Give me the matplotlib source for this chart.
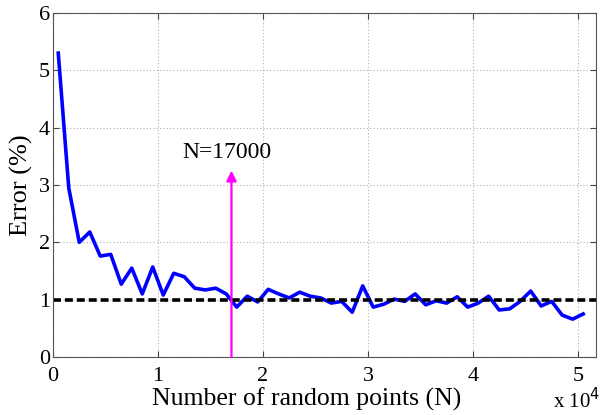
import numpy as np
import matplotlib
matplotlib.use('Agg')
import matplotlib.pyplot as plt

# sample sizes and the resulting error
n_points = np.arange(500, 51000, 1000)
error_pct = [5.30, 2.95, 2.00, 2.18, 1.76, 1.79, 1.27, 1.55, 1.10, 1.57,
             1.08, 1.46, 1.40, 1.20, 1.17, 1.20, 1.10, 0.87, 1.06, 0.96,
             1.18, 1.10, 1.03, 1.13, 1.06, 1.03, 0.94, 0.97, 0.78, 1.24,
             0.87, 0.92, 1.01, 0.97, 1.10, 0.91, 0.98, 0.94, 1.05, 0.87,
             0.94, 1.06, 0.82, 0.84, 0.97, 1.15, 0.89, 0.97, 0.73, 0.66,
             0.75]
target_error = 1.0
chosen_n = 17000
x_scale = 1e4

plt.rcParams['font.family'] = ['Liberation Serif', 'DejaVu Serif']

fig = plt.figure(figsize=(6.03, 4.15), dpi=100)
ax = fig.add_axes([0.0879, 0.1398, 0.9001, 0.8289])

ax.plot(n_points / x_scale, error_pct, color='#0000ff', lw=2.6)
ax.axhline(target_error, color='black', lw=2.6, ls=(0, (2.2, 1.1)))

ax.annotate('', xy=(chosen_n / x_scale, 3.25), xytext=(chosen_n / x_scale, 0),
            arrowprops=dict(arrowstyle='-|>', color='#ff00ff', lw=1.6,
                            mutation_scale=15, shrinkA=0, shrinkB=0))
ax.text(1.23, 3.57, 'N=%d' % chosen_n, fontsize=17, va='center', ha='left')

ax.set_xlim(0, 5.17)
ax.set_ylim(0, 6)
ax.set_xticks(range(6))
ax.set_yticks(range(7))
ax.grid(True, ls=(0, (1, 2)), color='#b0b0b0', lw=0.8)
ax.tick_params(direction='in', top=True, right=True, labelsize=16, length=4,
               color='#444444')
ax.tick_params(axis='x', pad=7)
ax.tick_params(axis='y', pad=2)
for sp in ax.spines.values():
    sp.set_color('#555555')

ax.set_xlabel('Number of random points (N)', fontsize=18.5)
ax.xaxis.set_label_coords(0.468, -0.088)
ax.set_ylabel('Error (%)', fontsize=19)
ax.yaxis.set_label_coords(-0.037, 0.5)
fig.text(0.995, 0.004, r'x 10$^4$', fontsize=15, ha='right', va='bottom')

fig.savefig('out.png', dpi=100)
